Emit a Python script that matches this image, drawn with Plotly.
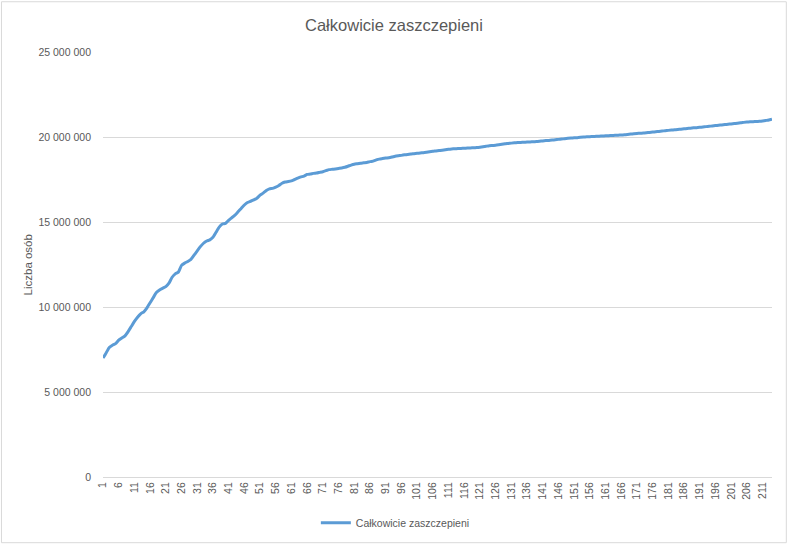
import plotly.graph_objects as go

# Dni (kolejne numery) i liczba osób w pełni zaszczepionych
dni = list(range(1, 215))
zaszczepieni = [
    7000000, 7300000, 7620000, 7750000, 7850000, 8050000, 8180000, 8300000, 8550000, 8850000,
    9150000, 9400000, 9600000, 9720000, 9950000, 10250000, 10550000, 10850000, 11000000, 11100000,
    11200000, 11400000, 11750000, 11950000, 12050000, 12450000, 12580000, 12680000, 12800000, 13050000,
    13300000, 13550000, 13750000, 13880000, 13950000, 14100000, 14400000, 14700000, 14880000, 14920000,
    15100000, 15250000, 15400000, 15600000, 15800000, 16000000, 16150000, 16220000, 16300000, 16400000,
    16580000, 16700000, 16850000, 16950000, 16980000, 17050000, 17150000, 17280000, 17350000, 17380000,
    17420000, 17500000, 17580000, 17650000, 17700000, 17800000, 17820000, 17860000, 17880000, 17920000,
    17960000, 18020000, 18080000, 18100000, 18120000, 18150000, 18180000, 18220000, 18280000, 18350000,
    18400000, 18430000, 18460000, 18480000, 18500000, 18550000, 18580000, 18650000, 18700000, 18730000,
    18760000, 18780000, 18820000, 18870000, 18900000, 18920000, 18950000, 18970000, 19000000, 19020000,
    19040000, 19060000, 19080000, 19100000, 19130000, 19160000, 19180000, 19200000, 19220000, 19250000,
    19280000, 19300000, 19310000, 19320000, 19330000, 19340000, 19350000, 19360000, 19370000, 19380000,
    19400000, 19430000, 19460000, 19490000, 19500000, 19520000, 19540000, 19570000, 19600000, 19620000,
    19640000, 19660000, 19670000, 19680000, 19690000, 19700000, 19710000, 19720000, 19730000, 19750000,
    19770000, 19790000, 19800000, 19820000, 19840000, 19860000, 19880000, 19900000, 19920000, 19940000,
    19950000, 19960000, 19980000, 20000000, 20010000, 20020000, 20030000, 20040000, 20050000, 20060000,
    20070000, 20080000, 20090000, 20100000, 20110000, 20120000, 20130000, 20150000, 20170000, 20190000,
    20210000, 20220000, 20230000, 20250000, 20270000, 20290000, 20310000, 20330000, 20350000, 20370000,
    20390000, 20410000, 20420000, 20440000, 20460000, 20480000, 20500000, 20520000, 20540000, 20550000,
    20570000, 20590000, 20610000, 20630000, 20650000, 20670000, 20690000, 20710000, 20730000, 20750000,
    20770000, 20790000, 20810000, 20840000, 20860000, 20880000, 20890000, 20900000, 20910000, 20920000,
    20940000, 20970000, 21000000, 21050000,
]
etykiety_x = [str(d) for d in dni[::5]]

fig = go.Figure()
fig.add_trace(go.Scatter(
    x=dni, y=zaszczepieni,
    mode="lines",
    name="Całkowicie zaszczepieni",
    line=dict(color="#5B9BD5", width=3, shape="spline", smoothing=0.4),
))

fig.update_layout(
    width=788, height=549,
    margin=dict(l=103, r=16, t=52, b=70),
    paper_bgcolor="white",
    plot_bgcolor="white",
    separators=", ",
    font=dict(family="Liberation Sans, Arial, sans-serif", size=10.5, color="#595959"),
    title=dict(
        text="Całkowicie zaszczepieni",
        x=0.5, xanchor="center",
        y=1 - 25 / 549, yanchor="middle",
        font=dict(size=16.5, color="#595959"),
    ),
    showlegend=True,
    legend=dict(
        orientation="h",
        x=0.437, xanchor="center",
        y=-0.1075, yanchor="middle",
        font=dict(size=10.5, color="#595959"),
        itemwidth=30,
    ),
    xaxis=dict(
        range=[1, 214],
        tickmode="array",
        tickvals=dni[::5],
        ticktext=etykiety_x,
        tickangle=-90,
        showgrid=False,
        showline=True,
        linecolor="#D9D9D9",
        linewidth=1,
        ticks="",
        zeroline=False,
    ),
    yaxis=dict(
        range=[0, 25000000],
        dtick=5000000,
        tickformat=",d",
        showgrid=True,
        gridcolor="#D9D9D9",
        gridwidth=1,
        zeroline=False,
        showline=False,
        ticks="",
        ticklabelstandoff=11,
    ),
    annotations=[dict(
        text="Liczba osób",
        xref="paper", yref="paper",
        x=(28 - 103) / 668.7, y=0.5,
        xanchor="center", yanchor="middle",
        textangle=-90,
        showarrow=False,
        font=dict(size=11.5, color="#595959"),
    )],
    shapes=[dict(
        type="rect",
        xref="paper", yref="paper",
        x0=(1.5 - 103) / 668.7, x1=(786 - 103) / 668.7,
        y0=(479 - 545) / 427, y1=(479 - 1.5) / 427,
        line=dict(color="#D9D9D9", width=1),
    )],
)

# strona bez domyślnego marginesu, żeby wykres zaczynał się w lewym górnym rogu
fig.write_html(
    "out.html",
    config={"displayModeBar": False},
    post_script="document.body.style.margin='0px';document.body.style.overflow='hidden';",
)
